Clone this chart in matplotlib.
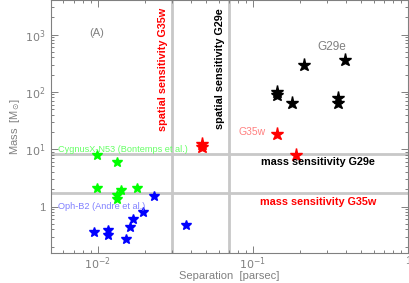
import math
import matplotlib
matplotlib.use('Agg')
import matplotlib.pyplot as plt
from matplotlib.ticker import LogLocator, NullFormatter, FuncFormatter

plt.rcParams['font.family'] = ['Liberation Sans', 'DejaVu Sans']

# G29e cores (black)
g29e_sep = [0.212, 0.394, 0.143, 0.143, 0.178, 0.351, 0.351]
g29e_mass = [298, 364, 100, 87, 64, 78, 64]

# G35w cores (red)
g35w_sep = [0.047, 0.047, 0.143, 0.189]
g35w_mass = [12.5, 10.8, 18.3, 8.0]

# CygnusX-N53 (green)
cyg_sep = [0.0099, 0.0132, 0.0099, 0.0140, 0.0180, 0.0132, 0.0132]
cyg_mass = [8.0, 5.9, 2.15, 1.96, 2.10, 1.60, 1.35]

# Oph-B2 (blue)
oph_sep = [0.0231, 0.0196, 0.0168, 0.0160, 0.0152, 0.0116, 0.0116, 0.0095, 0.0371]
oph_mass = [1.54, 0.80, 0.60, 0.44, 0.275, 0.395, 0.315, 0.364, 0.477]

# sensitivity limits
spatial_g35w = 0.030
spatial_g29e = 0.070
mass_g29e = 8.2
mass_g35w = 1.72

grey = '#808080'
linegrey = '#c8c8c8'

fig = plt.figure(figsize=(4.09, 2.83), dpi=100)
ax = fig.add_axes([0.125, 0.106, 0.873, 0.894])
ax.set_xscale('log')
ax.set_yscale('log')
ax.set_xlim(0.005, 1.0)
ax.set_ylim(0.155, 4000)

# sensitivity lines
for xv in (spatial_g35w, spatial_g29e):
    ax.axvline(xv, color=linegrey, lw=2, zorder=1)
for yv in (mass_g29e, mass_g35w):
    ax.axhline(yv, color=linegrey, lw=2, zorder=1)

ax.plot(oph_sep, oph_mass, '*', color='#0000ff', ms=7, mec='#0000ff', zorder=3)
ax.plot(cyg_sep, cyg_mass, '*', color='#00ff00', ms=7, mec='#00ff00', zorder=3)
ax.plot(g35w_sep, g35w_mass, '*', color='#ff0000', ms=9.5, mec='#ff0000', zorder=3)
ax.plot(g29e_sep, g29e_mass, '*', color='black', ms=9.5, mec='black', zorder=3)

# text annotations
ax.text(0.0099, 1050, '(A)', color=grey, fontsize=8, ha='center', va='center')
ax.text(0.0263, 250, 'spatial sensitivity G35w', color='red', fontsize=7.8,
        fontweight='bold', rotation=90, ha='center', va='center')
ax.text(0.0613, 250, 'spatial sensitivity G29e', color='black', fontsize=7.8,
        fontweight='bold', rotation=90, ha='center', va='center')
ax.text(0.321, 610, 'G29e', color=grey, fontsize=8.5, ha='center', va='center')
ax.text(0.0986, 20, 'G35w', color='#ff8080', fontsize=7.5, ha='center', va='center')
ax.text(0.264, 6.0, 'mass sensitivity G29e', color='black', fontsize=7.8,
        fontweight='bold', ha='center', va='center')
ax.text(0.264, 1.2, 'mass sensitivity G35w', color='red', fontsize=7.8,
        fontweight='bold', ha='center', va='center')
ax.text(0.00555, 9.9, 'CygnusX-N53 (Bontemps et al.)', color='#66ff66', fontsize=6.6,
        ha='left', va='center')
ax.text(0.00555, 1.0, 'Oph-B2 (Andre et al.)', color='#8080ff', fontsize=6.6,
        ha='left', va='center')

# axes styling
for sp in ax.spines.values():
    sp.set_color(grey)
    sp.set_linewidth(0.8)

ax.xaxis.set_major_locator(LogLocator(base=10, numticks=10))
ax.xaxis.set_minor_locator(LogLocator(base=10, subs=range(2, 10), numticks=10))
ax.yaxis.set_major_locator(LogLocator(base=10, numticks=10))
ax.yaxis.set_minor_locator(LogLocator(base=10, subs=range(2, 10), numticks=10))
ax.xaxis.set_minor_formatter(NullFormatter())
ax.yaxis.set_minor_formatter(NullFormatter())


def log_fmt(v, pos):
    if abs(v - 1) < 1e-9:
        return '1'
    e = int(round(math.log10(v)))
    return r'$10^{%d}$' % e


ax.xaxis.set_major_formatter(FuncFormatter(log_fmt))
ax.yaxis.set_major_formatter(FuncFormatter(log_fmt))

ax.tick_params(which='both', direction='in', top=True, right=True,
               color=grey, labelcolor=grey, labelsize=8, width=0.7)
ax.tick_params(which='major', length=5)
ax.tick_params(axis='x', which='major', pad=2)
ax.tick_params(axis='y', which='major', pad=4)
ax.tick_params(which='minor', length=2.5)

ax.set_xlabel('Separation  [parsec]', color=grey, fontsize=8, labelpad=-1)
ax.set_ylabel(r'Mass  [M$_{\odot}$]', color=grey, fontsize=8, labelpad=2)

fig.savefig('out.png', dpi=100)
